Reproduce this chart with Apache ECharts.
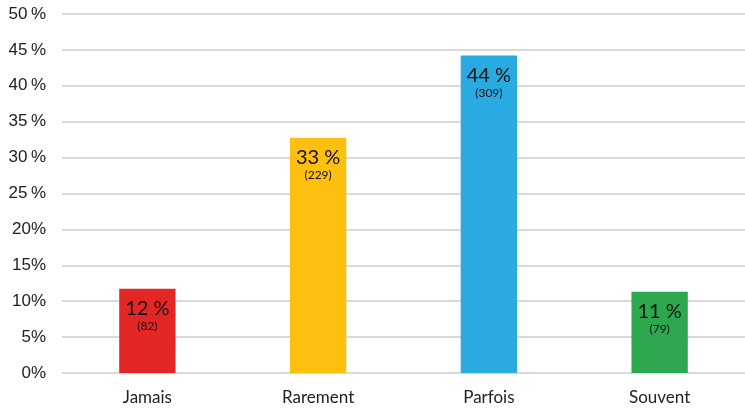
<!DOCTYPE html>
<html><head><meta charset="utf-8">
<script src="https://cdn.jsdelivr.net/npm/echarts@6/dist/echarts.min.js"></script>
<style>html,body{margin:0;padding:0;background:#fff}#c{width:745px;height:408px}</style>
</head><body><div id="c"></div>
<script>
const categories = ['Jamais', 'Rarement', 'Parfois', 'Souvent'];
const percents = [11.73, 32.76, 44.21, 11.30];
const pctLabels = ['12 %', '33 %', '44 %', '11 %'];
const counts = [82, 229, 309, 79];
const colors = ['#e32726', '#fdbf10', '#29abe2', '#2da84f'];
const yTickLabels = ['0%', '5%', '10%', '15%', '20%', '25\u2009%', '30\u2009%', '35\u2009%', '40\u2009%', '45\u2009%', '50\u2009%'];

const chart = echarts.init(document.getElementById('c'));
chart.setOption({
  animation: false,
  grid: { left: 62, right: -4, top: 14, bottom: 35 },
  xAxis: {
    type: 'category', data: categories,
    axisLine: { show: false }, axisTick: { show: false },
    axisLabel: { fontFamily: 'Lato', fontSize: 17, color: '#222', margin: 16 }
  },
  yAxis: {
    type: 'value', min: 0, max: 50, interval: 5,
    axisLine: { show: false }, axisTick: { show: false },
    splitLine: { lineStyle: { color: '#d9d9d9', width: 2 } },
    axisLabel: {
      fontFamily: '"Liberation Sans", Arial, sans-serif', fontSize: 17, color: '#222', margin: 16,
      formatter: v => yTickLabels[Math.round(v / 5)]
    }
  },
  series: [{
    type: 'bar', barWidth: '33%',
    data: percents.map((v, i) => ({ value: v, itemStyle: { color: colors[i] } })),
    label: {
      show: true, position: 'insideTop', distance: 9,
      formatter: p => '{a|' + pctLabels[p.dataIndex] + '}\n{b|(' + counts[p.dataIndex] + ')}',
      rich: {
        a: { fontFamily: 'Lato', fontSize: 20, color: '#111', lineHeight: 21 },
        b: { fontFamily: 'Lato', fontSize: 12, color: '#111', lineHeight: 15 }
      }
    }
  }]
});
</script></body></html>
